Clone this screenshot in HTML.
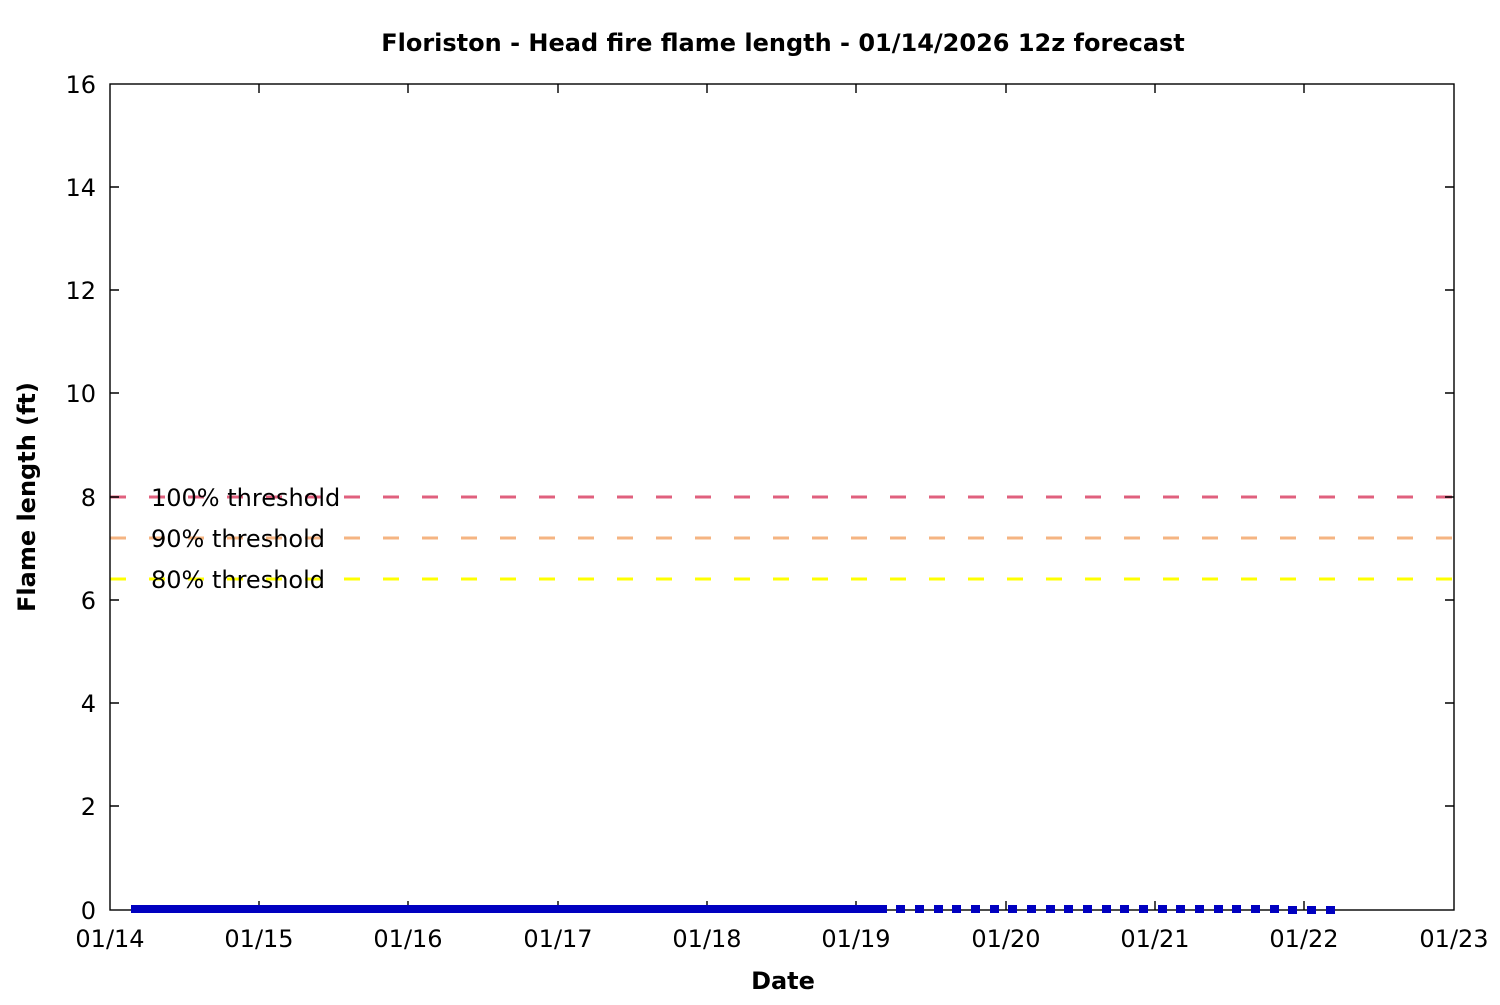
<!DOCTYPE html>
<html><head><meta charset="utf-8"><style>body{margin:0;background:#fff}</style></head>
<body>
<svg width="1500" height="1000" xmlns="http://www.w3.org/2000/svg" font-family="DejaVu Sans, Liberation Sans, sans-serif">
<rect width="1500" height="1000" fill="#fff"/>
<text x="783" y="51" text-anchor="middle" font-size="24" font-weight="bold">Floriston - Head fire flame length - 01/14/2026 12z forecast</text>
<g stroke-width="3" stroke-dasharray="16,23">
<line x1="110" y1="497" x2="1454" y2="497" stroke="#e0607e"/>
<line x1="110" y1="538" x2="1454" y2="538" stroke="#f5b482"/>
<line x1="110" y1="579" x2="1454" y2="579" stroke="#ffff00"/>
</g>
<g font-size="24" fill="#000">
<text x="151" y="506">100% threshold</text>
<text x="151" y="547">90% threshold</text>
<text x="151" y="588">80% threshold</text>
</g>
<rect x="110" y="84" width="1344" height="826" fill="none" stroke="#000" stroke-width="1.4"/>
<g stroke="#000" stroke-width="1.4">
<path d="M110 806h9M1454 806h-9M110 703h9M1454 703h-9M110 600h9M1454 600h-9M110 497h9M1454 497h-9M110 393h9M1454 393h-9M110 290h9M1454 290h-9M110 187h9M1454 187h-9"/>
<path d="M259 910v-9M259 84v9M408 910v-9M408 84v9M558 910v-9M558 84v9M707 910v-9M707 84v9M856 910v-9M856 84v9M1006 910v-9M1006 84v9M1155 910v-9M1155 84v9M1304 910v-9M1304 84v9"/>
</g>
<g font-size="24" text-anchor="end">
<text x="96" y="919">0</text><text x="96" y="815">2</text><text x="96" y="712">4</text><text x="96" y="609">6</text><text x="96" y="506">8</text><text x="96" y="402">10</text><text x="96" y="299">12</text><text x="96" y="196">14</text><text x="96" y="93">16</text>
</g>
<g font-size="24" text-anchor="middle">
<text x="110" y="947">01/14</text><text x="259" y="947">01/15</text><text x="408" y="947">01/16</text><text x="558" y="947">01/17</text><text x="707" y="947">01/18</text><text x="856" y="947">01/19</text><text x="1006" y="947">01/20</text><text x="1155" y="947">01/21</text><text x="1304" y="947">01/22</text><text x="1454" y="947">01/23</text>
</g>
<text x="783" y="989" text-anchor="middle" font-size="24" font-weight="bold">Date</text>
<text transform="translate(35,497) rotate(-90)" text-anchor="middle" font-size="24" font-weight="bold">Flame length (ft)</text>
<rect x="131" y="905" width="756" height="8" fill="#0000c0"/>
<g fill="#0000c0">
<rect x="896" y="905" width="9" height="8"/><rect x="915" y="905" width="9" height="8"/><rect x="934" y="905" width="9" height="8"/><rect x="952" y="905" width="9" height="8"/><rect x="971" y="905" width="9" height="8"/><rect x="990" y="905" width="9" height="8"/><rect x="1008" y="905" width="9" height="8"/><rect x="1027" y="905" width="9" height="8"/><rect x="1046" y="905" width="9" height="8"/><rect x="1064" y="905" width="9" height="8"/><rect x="1083" y="905" width="9" height="8"/><rect x="1102" y="905" width="9" height="8"/><rect x="1120" y="905" width="9" height="8"/><rect x="1139" y="905" width="9" height="8"/><rect x="1158" y="905" width="9" height="8"/><rect x="1176" y="905" width="9" height="8"/><rect x="1195" y="905" width="9" height="8"/><rect x="1214" y="905" width="9" height="8"/><rect x="1232" y="905" width="9" height="8"/><rect x="1251" y="905" width="9" height="8"/><rect x="1270" y="905" width="9" height="8"/><rect x="1288" y="906" width="9" height="8"/><rect x="1307" y="906" width="9" height="8"/><rect x="1326" y="906" width="9" height="8"/>
</g>
</svg>
</body></html>
